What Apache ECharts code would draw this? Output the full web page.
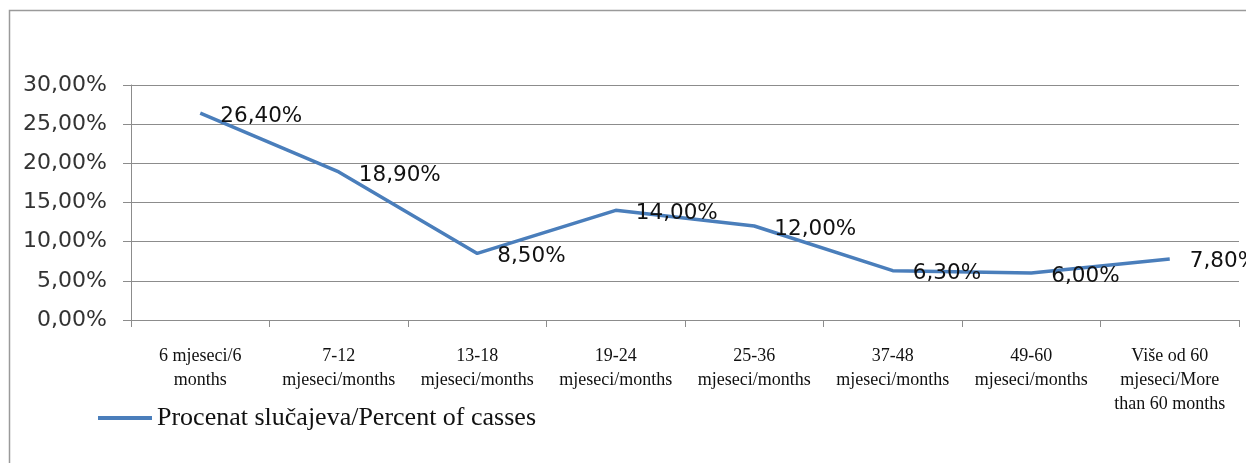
<!DOCTYPE html>
<html>
<head>
<meta charset="utf-8">
<script src="https://cdn.jsdelivr.net/npm/echarts@6/dist/echarts.min.js"></script>
<style>
  html, body { margin: 0; padding: 0; background: #fff; }
  #chart { width: 1246px; height: 463px; }
</style>
</head>
<body>
<div id="chart"></div>
<script>
// Duration categories (two-language labels, wrapped as printed)
const categories = [
  '6 mjeseci/6\nmonths',
  '7-12\nmjeseci/months',
  '13-18\nmjeseci/months',
  '19-24\nmjeseci/months',
  '25-36\nmjeseci/months',
  '37-48\nmjeseci/months',
  '49-60\nmjeseci/months',
  'Više od 60\nmjeseci/More\nthan 60 months'
];
// Share of cases per duration, in percent
const percentOfCases = [26.4, 18.9, 8.5, 14.0, 12.0, 6.3, 6.0, 7.8];
const seriesName = 'Procenat slučajeva/Percent of casses';

const fmtPct = v => v.toFixed(2).replace('.', ',') + '%';

const chart = echarts.init(document.getElementById('chart'), null, { renderer: 'canvas' });
chart.setOption({
  animation: false,
  backgroundColor: '#ffffff',
  graphic: [{
    type: 'polyline',
    shape: { points: [[9.5, 463], [9.5, 10.5], [1246, 10.5]] },
    style: { stroke: '#9a9a9a', lineWidth: 1.5, fill: null },
    silent: true
  }],
  grid: { left: 131, right: 7, top: 85, bottom: 143, containLabel: false },
  legend: {
    left: 93,
    top: 400,
    itemWidth: 54,
    itemHeight: 4,
    icon: 'rect',
    textStyle: { fontFamily: 'Liberation Serif', fontSize: 26, color: '#111' },
    data: [seriesName]
  },
  xAxis: {
    type: 'category',
    data: categories,
    boundaryGap: true,
    axisLine: { lineStyle: { color: '#8c8c8c', width: 1 } },
    axisTick: { show: true, length: 7, lineStyle: { color: '#8c8c8c' } },
    axisLabel: {
      interval: 0,
      margin: 24,
      fontFamily: 'Liberation Serif',
      fontSize: 18,
      lineHeight: 24,
      color: '#111'
    }
  },
  yAxis: {
    type: 'value',
    min: 0,
    max: 30,
    interval: 5,
    axisLine: { show: true, lineStyle: { color: '#8c8c8c', width: 1 } },
    axisTick: { show: true, length: 8, lineStyle: { color: '#8c8c8c' } },
    splitLine: { lineStyle: { color: '#8c8c8c', width: 1 } },
    axisLabel: {
      margin: 24,
      fontFamily: 'DejaVu Sans',
      fontSize: 22,
      color: '#333',
      formatter: v => fmtPct(v)
    }
  },
  series: [{
    name: seriesName,
    type: 'line',
    data: percentOfCases,
    symbol: 'circle',
    symbolSize: 0.1,
    itemStyle: { color: '#4a7ebb' },
    lineStyle: { color: '#4a7ebb', width: 3.5 },
    label: {
      show: true,
      position: 'right',
      distance: 20,
      offset: [0, 3],
      fontFamily: 'DejaVu Sans',
      fontSize: 21.5,
      color: '#111',
      formatter: p => fmtPct(p.value)
    }
  }]
});
</script>
</body>
</html>
